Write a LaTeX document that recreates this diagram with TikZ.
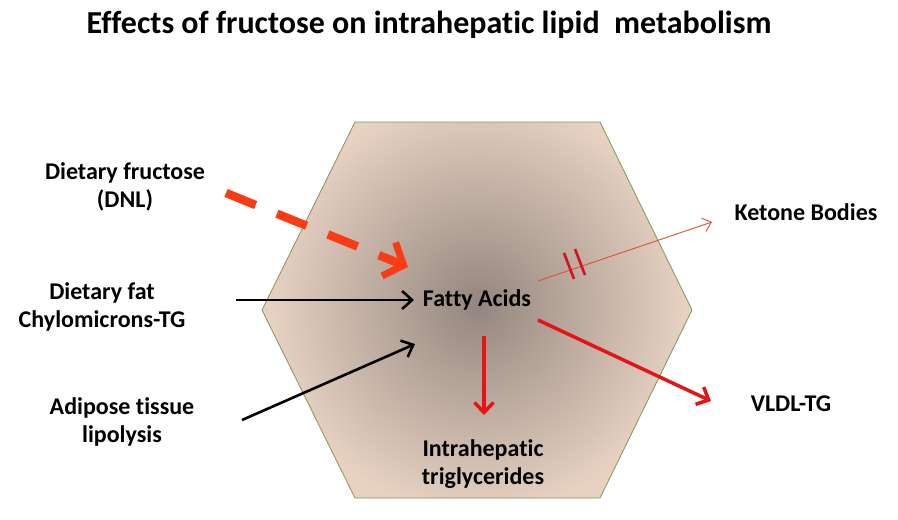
\documentclass[tikz,border=0pt]{standalone}
\usepackage{fontspec}
\setmainfont{Carlito}[Ligatures=NoCommon]
\usetikzlibrary{arrows.meta,calc}
\definecolor{hexout}{RGB}{231,210,194}
\definecolor{hexin}{RGB}{148,134,127}
\definecolor{hexedge}{RGB}{130,150,90}
\definecolor{dashred}{RGB}{250,60,20}
\definecolor{arrred}{RGB}{230,20,20}
\definecolor{ketred}{RGB}{225,80,50}
\definecolor{barred}{RGB}{210,20,30}
\tikzset{
  lbl/.style={font=\bfseries\fontsize{24}{28}\selectfont, align=center, inner sep=1pt},
  blk/.style={draw=black, line width=2.6pt, -{Straight Barb[length=10pt,width=18pt,line width=2.6pt]}},
  redarr/.style={draw=arrred, line width=3.5pt, -{Straight Barb[length=10pt,width=19pt,line width=3.5pt]}},
  ketarr/.style={draw=ketred, line width=0.9pt, -{Straight Barb[length=8pt,width=14pt,line width=0.9pt]}},
  dasharr/.style={draw=dashred, line width=8.5pt, dash pattern=on 32pt off 23pt, -{Straight Barb[length=16pt,width=36pt,line width=7pt]}},
  bar/.style={draw=barred, line width=2.6pt}
}
\begin{document}
\begin{tikzpicture}[x=1pt,y=-1pt]
\useasboundingbox (0,0) rectangle (898,520);
\fill[white] (0,0) rectangle (898,520);
% hexagon
\coordinate (h1) at (355,122);
\coordinate (h2) at (600,122);
\coordinate (h3) at (692,310);
\coordinate (h4) at (600,498);
\coordinate (h5) at (355,498);
\coordinate (h6) at (262,310);
\fill[hexout] (h1)--(h2)--(h3)--(h4)--(h5)--(h6)--cycle;
\begin{scope}
\clip (h1)--(h2)--(h3)--(h4)--(h5)--(h6)--cycle;
\shade[inner color=hexin, outer color=hexout] (478,305) circle (210);
\end{scope}
\draw[hexedge, line width=0.8pt] (h1)--(h2)--(h3)--(h4)--(h5)--(h6)--cycle;
% title
\node[font=\bfseries\fontsize{32}{38}\selectfont, inner sep=0pt] (title) at (429,25) {Effects of fructose on intrahepatic lipid\ \ metabolism};
% labels
\node[lbl] (fru) at (125,187) {Dietary fructose\\(DNL)};
\node[lbl] (fat) at (102,307) {Dietary fat\\Chylomicrons-TG};
\node[lbl] (adi) at (122,422) {Adipose tissue\\lipolysis};
\node[lbl] (fa) at (477,300) {Fatty Acids};
\node[lbl] (ihtg) at (483,464) {Intrahepatic\\triglycerides};
\node[lbl] (ket) at (806,212) {Ketone Bodies};
\node[lbl] (vldl) at (791,404) {VLDL-TG};
% connector end points
\coordinate (dS) at (226,193);
\coordinate (dE) at (408,267);
\coordinate (fS) at (236,300);
\coordinate (fE) at (414,300);
\coordinate (aS) at (242,420);
\coordinate (aE) at (415,344);
\coordinate (kS) at (538,281);
\coordinate (kE) at (712,222);
\coordinate (tS) at (484,336);
\coordinate (tE) at (484,415);
\coordinate (vS) at (538,320);
\coordinate (vE) at (711,401);
\draw[dasharr] (dS) -- (dE);
\draw[blk] (fS) -- (fE);
\draw[blk] (aS) -- (aE);
\draw[ketarr] (kS) -- (kE);
\draw[redarr] (tS) -- (tE);
\draw[redarr] (vS) -- (vE);
% double bar
\coordinate (b1) at (569,266);
\coordinate (b2) at (580,262);
\draw[bar] ($(b1)+(-5,-13)$) -- ($(b1)+(5,13)$);
\draw[bar] ($(b2)+(-5,-13)$) -- ($(b2)+(5,13)$);
\end{tikzpicture}
\end{document}
